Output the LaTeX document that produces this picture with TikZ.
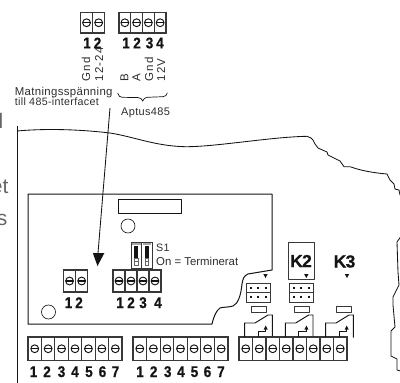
\documentclass[tikz,border=0pt]{standalone}
\usepackage{fontspec}
\setmainfont{Liberation Sans}
\newfontfamily\spaced[LetterSpace=3]{Liberation Sans}
\newfontfamily\rotspaced[LetterSpace=10]{Liberation Sans}
\newfontfamily\heavy[FakeBold=0.6,FakeStretch=0.88]{Liberation Sans Bold}
\newfontfamily\heavyk[FakeBold=0.8,LetterSpace=-4]{Liberation Sans Bold}
\definecolor{ink}{gray}{0.08}
\definecolor{txtg}{gray}{0.18}
\definecolor{pagetxt}{gray}{0.4}
\newcommand{\termblock}[5]{% x, y, n, cell width, height
  \foreach \i in {1,...,#3}{
    \pgfmathsetmacro{\xa}{#1+(\i-1)*#4}
    \pgfmathsetmacro{\xb}{\xa+#4}
    \pgfmathsetmacro{\xc}{\xa+#4/2}
    \pgfmathsetmacro{\yc}{#2+#5/2}
    \draw[cellbox] (\xa,#2) rectangle (\xb,#2+#5);
    \draw[screw] (\xc,\yc) circle[radius=3.9];
    \draw[screw,line width=1.1pt] (\xc-3.9,\yc) -- (\xc+3.9,\yc);
  }
}
\newcommand{\relay}[2]{% x offset, end y
  \draw[relayline] (244.7+#1,337) -- (244.7+#1,323) -- (255+#1,323) -- (268+#1,315) -- (272.3+#1,315) -- (272.3+#1,#2);
  \draw[relayline] (258+#1,337) -- (258+#1,331) -- (265.7+#1,331) -- (265.7+#1,329);
  \fill[ink] (263.7+#1,329.5) -- (267.7+#1,329.5) -- (265.7+#1,325.5) -- cycle;
}
\begin{document}
\begin{tikzpicture}[x=1pt,y=-1pt,
  cellbox/.style={draw=black!78,line width=1.1pt,fill=white},
  screw/.style={draw=ink,line width=0.95pt},
  outline/.style={draw=ink,line width=0.85pt,line join=round},
  relayline/.style={draw=ink,line width=0.95pt},
  digit/.style={font=\fontsize{15.5}{15.5}\heavy,text=ink,inner sep=0pt},
  lbl/.style={font=\fontsize{10.7}{11}\spaced,text=txtg,inner sep=0pt,anchor=base west},
  vlbl/.style={font=\fontsize{11.5}{11.5}\rotspaced,text=txtg,inner sep=0pt,rotate=90,anchor=west},
  bigk/.style={font=\fontsize{17.5}{17.5}\heavyk,text=ink,inner sep=0pt},
  clipped/.style={font=\fontsize{21}{21}\selectfont,text=pagetxt,inner sep=0pt,anchor=base east},
]
\useasboundingbox (0,0) rectangle (400,383);

% clipped page text
\node[clipped] (pa) at (3.6,128) {l};
\node[clipped] (pb) at (8.6,193) {et};
\node[clipped] (pc) at (7.6,225) {s};

% housing outline
\draw[outline] (17,126) -- (17,383);
\draw[outline] (17,131) .. controls (50,128) and (85,130) .. (110,133)
  .. controls (135,137) and (155,146) .. (185,146.7)
  .. controls (215,147) and (270,137) .. (307,136.3)
  -- (311,138) -- (313,140) -- (315,144) -- (318,148) -- (327,152) -- (328,155) -- (340,161) -- (344,166.7) -- (350,166.7)
  .. controls (362,171) and (375,173) .. (387,174)
  -- (390,180) -- (394,184) -- (395,189) -- (399,190) -- (400,195);
\draw[outline] (400.5,237) -- (397,242) -- (398,272) -- (399,285) -- (393,297) -- (393,305) -- (395,327) -- (391,331) -- (391,356) -- (397,359) -- (397,370) -- (400.5,371);

% board
\draw[outline,line width=1pt] (28,324) -- (28,194) -- (272,194) -- (272,270) -- (248,274)
  .. controls (244,276) and (243,278) .. (242,284)
  .. controls (241,295) and (238,304) .. (233,306)
  .. controls (228,307.5) and (222,307) .. (220,308)
  .. controls (216,311) and (214,316) .. (212,324) -- cycle;
\draw[outline] (118,199) rectangle (181.5,213);
\draw[outline,line width=0.65pt] (128,226) circle[radius=7];
\draw[outline,line width=0.65pt] (48.5,312) circle[radius=7];

% top terminals
\termblock{80.5}{12.5}{2}{12.1}{20.5}
\termblock{119}{12.5}{4}{11.75}{20.5}
\foreach \x/\t in {87/1,97.5/2,126/1,137/2,149.5/3,160/4}
  \node[digit] (top\x) at (\x,43) {\t};

% vertical labels
\node[vlbl] (vg) at (86,81.7) {Gnd};
\node[vlbl] (vv) at (99,81.7) {12-24};
\node[vlbl] (vb) at (124.5,81.7) {B};
\node[vlbl] (va) at (136.5,81.7) {A};
\node[vlbl] (vh) at (149,81.7) {Gnd};
\node[vlbl] (vw) at (161,81.7) {12V};

% labels
\node[lbl,font=\fontsize{11.4}{11.4}\spaced] (m1) at (14.7,95) {Matningsspänning};
\node[lbl] (m2) at (14.7,105.7) {till 485-interfacet};
\node[lbl,font=\fontsize{11}{11}\spaced] (apt) at (121,115) {Aptus485};
\draw[ink,line width=0.7pt] (117.7,93) .. controls (118.5,96) and (120,97.3) .. (122,97.3) -- (138,97.6)
  .. controls (140.5,97.7) and (142,99) .. (142.7,101)
  .. controls (143.4,99) and (145,97.5) .. (147,97.3) -- (163,96.7)
  .. controls (165.5,96.5) and (167,95) .. (167.3,92.7);

% arrow
\coordinate (arrS) at (110,108);
\coordinate (arrE) at (98,253);
\coordinate (arrT) at (97.5,266);
\draw[ink,line width=0.85pt] (arrS) -- (arrE);
\fill[ink] (92.8,253) -- (104.4,253) -- (arrT) -- cycle;

% mid terminals
\termblock{63.5}{270}{2}{12.1}{22}
\termblock{113}{270}{4}{12}{22}
\foreach \x/\t in {68.5/1,79/2,120/1,131/2,143/3,158/4}
  \node[digit] (mid\x) at (\x,302.7) {\t};

% switch S1
\foreach \x in {131,141.5}{
  \draw[cellbox,line width=0.8pt] (\x,242) rectangle (\x+10.5,268);
  \fill[black!35] (\x+1,242.5) rectangle (\x+9.5,245);
  \fill[ink] (\x+3.3,245.5) rectangle (\x+7.3,258);
  \draw[black!60,line width=0.5pt] (\x+3.5,258) rectangle (\x+7.1,265);
  \draw[black!60,line width=0.5pt] (\x+3.5,261) -- (\x+7.1,261);
}
\node[lbl] (s1) at (156,251.7) {S1};
\node[lbl,font=\fontsize{11.4}{11.4}\selectfont] (on) at (156,265) {On = Terminerat};

% bottom terminals
\termblock{28}{337}{7}{13.43}{23.5}
\termblock{133}{337}{7}{13.57}{23.5}
\termblock{239}{337}{8}{13.5}{23.5}
\foreach \x/\t in {33.5/1,47/2,61.5/3,75/4,89/5,102.5/6,115.5/7,140/1,153.7/2,167.7/3,181/4,194.5/5,207.5/6,221/7}
  \node[digit] (bot\x) at (\x,371.7) {\t};

% K2, K3
\draw[outline,draw=black!78,line width=1pt] (288,242) rectangle (314,279);
\node[bigk] (k2) at (301,261) {K2};
\node[bigk] (k3) at (344.5,261.5) {K3};
\foreach \x in {265.5,306.3,347}
  \fill[ink] (\x-2.2,274) -- (\x+2.2,274) -- (\x,278) -- cycle;

% jumpers
\foreach \x in {246,289}{
  \draw[cellbox,line width=0.9pt] (\x,283) rectangle (\x+24.5,292.5);
  \draw[cellbox,line width=0.9pt] (\x,292.5) rectangle (\x+24.5,302);
  \foreach \d in {5,12.2,19.5}{
    \fill[ink] (\x+\d-1,286.7) rectangle (\x+\d+1,288.7);
    \fill[ink] (\x+\d-1,296.2) rectangle (\x+\d+1,298.2);
  }
}
\foreach \x in {251,294,336}
  \draw[outline,draw=black!78,line width=0.9pt] (\x,306) rectangle (\x+15,312);

% relays
\relay{0}{336}
\relay{40.7}{336}
\relay{81}{337.6}
\end{tikzpicture}
\end{document}
